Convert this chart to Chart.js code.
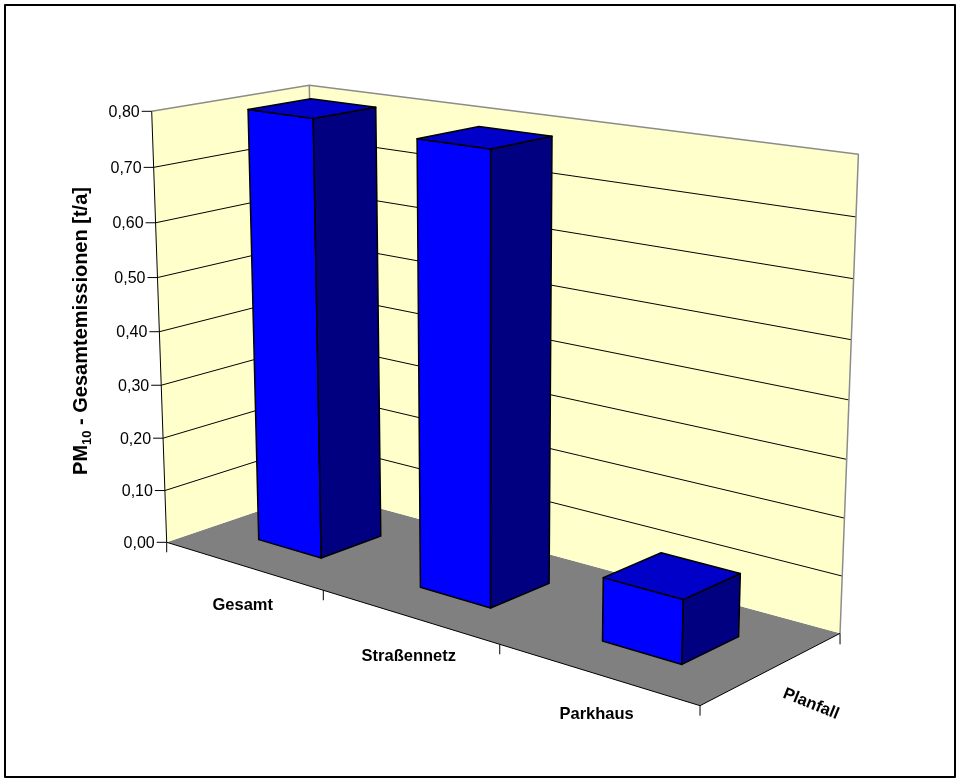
<!DOCTYPE html>
<html>
<head>
<meta charset="utf-8">
<script src="https://cdn.jsdelivr.net/npm/chart.js@4.4.1/dist/chart.umd.min.js"></script>
<style>
  html, body { margin: 0; padding: 0; background: #ffffff; }
  canvas { display: block; }
</style>
</head>
<body>
<canvas id="chart" width="960" height="782"></canvas>
<script>
// ---- data ----
const categories = ['Gesamt', 'Straßennetz', 'Parkhaus'];
const seriesName = 'Planfall';
const emissions = [0.80, 0.79, 0.11];
const axisMin = 0.0;
const axisMax = 0.8;
const axisStep = 0.1;
const titleMain = 'PM';
const titleSub = '10';
const titleRest = ' - Gesamtemissionen [t/a]';

// ---- 3D view: perspective projection of the unit plot box ----
// c = category fraction (0 left .. 1 right), d = depth (0 front .. 1 back), v = value fraction
const view = {
  origin: [166.7, 542.3],
  cat: [415.3, 44.4],
  depth: [170.5, -19.35],
  val: [-21.75, -435.95],
  w: [-0.1686, 0.0644, -0.0445]
};
const barDepth = [0.3, 0.7];

function project(c, d, v) {
  const k = 1 + view.w[0] * c + view.w[1] * d + view.w[2] * v;
  return [
    (view.origin[0] + view.cat[0] * c + view.depth[0] * d + view.val[0] * v) / k,
    (view.origin[1] + view.cat[1] * c + view.depth[1] * d + view.val[1] * v) / k
  ];
}

const FONT = '"Liberation Sans", Arial, Helvetica, sans-serif';
const INK = '#000000';
const WALL = '#FFFFCC';
const FLOOR = '#808080';
const RIM = '#8C8C8C';
const BAR_FRONT = '#0000FF';
const BAR_SIDE = '#000080';
const BAR_TOP = '#0000C8';

function poly(ctx, pts, fill, stroke, lw, close = true) {
  ctx.beginPath();
  pts.forEach((p, i) => (i ? ctx.lineTo(p[0], p[1]) : ctx.moveTo(p[0], p[1])));
  if (close) ctx.closePath();
  if (fill) { ctx.fillStyle = fill; ctx.fill(); }
  if (stroke) { ctx.strokeStyle = stroke; ctx.lineWidth = lw; ctx.stroke(); }
}

const box3d = {
  id: 'box3d',
  beforeDraw(chart) {
    const ctx = chart.ctx;
    ctx.save();
    ctx.fillStyle = '#ffffff';
    ctx.fillRect(0, 0, chart.width, chart.height);
    ctx.restore();
  },
  beforeDatasetsDraw() { return false; },
  afterDraw(chart) {
    const ctx = chart.ctx;
    const xs = chart.scales.x;
    const ys = chart.scales.y;
    const vFrac = val => ys.getDecimalForPixel(ys.getPixelForValue(val));
    const cFrac = px => xs.getDecimalForPixel(px);
    const P = project;

    ctx.save();
    ctx.lineJoin = 'round';
    ctx.lineCap = 'butt';

    // floor and walls
    poly(ctx, [P(0, 0, 0), P(1, 0, 0), P(1, 1, 0), P(0, 1, 0)], FLOOR);
    poly(ctx, [P(0, 0, 0), P(0, 1, 0), P(0, 1, 1), P(0, 0, 1)], WALL);
    poly(ctx, [P(0, 1, 0), P(1, 1, 0), P(1, 1, 1), P(0, 1, 1)], WALL);

    // gridlines on both walls
    const ticks = ys.ticks;
    ticks.forEach(t => {
      const v = vFrac(t.value);
      if (v <= 0.0001 || v >= 0.9999) return;
      poly(ctx, [P(0, 0, v), P(0, 1, v), P(1, 1, v)], null, INK, 1, false);
    });

    // wall rims
    poly(ctx, [P(0, 0, 1), P(0, 1, 1), P(1, 1, 1), P(1, 1, 0)], null, RIM, 1.5, false);
    poly(ctx, [P(0, 1, 1), P(0, 1, 0)], null, RIM, 1.5, false);

    // axes
    poly(ctx, [P(0, 0, 1), P(0, 0, 0)], null, INK, 1, false);
    poly(ctx, [P(0, 0, 0), P(1, 0, 0), P(1, 1, 0)], null, INK, 1, false);

    // value ticks and labels
    ctx.font = '16px ' + FONT;
    ctx.textAlign = 'right';
    ctx.textBaseline = 'middle';
    ticks.forEach(t => {
      const p = P(0, 0, vFrac(t.value));
      poly(ctx, [[p[0] - 10, p[1]], [p[0], p[1]]], null, INK, 1, false);
      ctx.fillStyle = INK;
      ctx.fillText(t.label, p[0] - 12, p[1] + 1);
    });

    // category ticks (between categories) and depth tick
    for (let i = 0; i <= categories.length; i++) {
      const c = cFrac(xs.getPixelForValue(i - 0.5));
      const p = P(c, 0, 0);
      poly(ctx, [[p[0], p[1]], [p[0], p[1] + 10]], null, INK, 1, false);
    }
    const pd = P(1, 1, 0);
    poly(ctx, [[pd[0], pd[1]], [pd[0], pd[1] + 11]], null, INK, 1, false);

    // bars (back-left to front-right)
    const meta = chart.getDatasetMeta(0);
    meta.data.forEach(bar => {
      const b = bar.getProps(['x', 'y', 'base', 'width'], true);
      const c0 = cFrac(b.x - b.width / 2);
      const c1 = cFrac(b.x + b.width / 2);
      const v0 = ys.getDecimalForPixel(b.base);
      const v1 = ys.getDecimalForPixel(b.y);
      const [d0, d1] = barDepth;
      poly(ctx, [P(c0, d0, v0), P(c1, d0, v0), P(c1, d0, v1), P(c0, d0, v1)], BAR_FRONT, INK, 1.5);
      poly(ctx, [P(c1, d0, v0), P(c1, d1, v0), P(c1, d1, v1), P(c1, d0, v1)], BAR_SIDE, INK, 1.5);
      poly(ctx, [P(c0, d0, v1), P(c1, d0, v1), P(c1, d1, v1), P(c0, d1, v1)], BAR_TOP, INK, 1.5);
    });

    // category labels
    ctx.fillStyle = INK;
    ctx.font = 'bold 16.5px ' + FONT;
    ctx.textAlign = 'center';
    ctx.textBaseline = 'middle';
    categories.forEach((name, i) => {
      const p = P(cFrac(xs.getPixelForValue(i)), 0, 0);
      ctx.fillText(name, p[0], p[1] + 40);
    });

    // depth axis title
    ctx.save();
    ctx.translate(811, 704);
    ctx.rotate(22 * Math.PI / 180);
    ctx.fillText(seriesName, 0, 0);
    ctx.restore();

    // value axis title with subscript
    ctx.save();
    ctx.translate(80, 331);
    ctx.rotate(-Math.PI / 2);
    const big = 'bold 20px ' + FONT;
    const small = 'bold 13px ' + FONT;
    ctx.font = big;
    const w1 = ctx.measureText(titleMain).width;
    const w3 = ctx.measureText(titleRest).width;
    ctx.font = small;
    const w2 = ctx.measureText(titleSub).width;
    let x = -(w1 + w2 + w3) / 2;
    ctx.textAlign = 'left';
    ctx.textBaseline = 'alphabetic';
    ctx.fillStyle = INK;
    ctx.font = big;
    ctx.fillText(titleMain, x, 7);
    x += w1;
    ctx.font = small;
    ctx.fillText(titleSub, x, 11);
    x += w2;
    ctx.font = big;
    ctx.fillText(titleRest, x, 7);
    ctx.restore();

    // outer frame
    ctx.strokeStyle = INK;
    ctx.lineWidth = 2;
    ctx.strokeRect(5, 5, 950, 772);

    ctx.restore();
  }
};

new Chart(document.getElementById('chart'), {
  type: 'bar',
  data: {
    labels: categories,
    datasets: [{
      label: seriesName,
      data: emissions,
      barPercentage: 0.4,
      categoryPercentage: 1.0,
      backgroundColor: BAR_FRONT
    }]
  },
  options: {
    responsive: false,
    animation: false,
    events: [],
    plugins: { legend: { display: false }, tooltip: { enabled: false } },
    scales: {
      x: { display: false, offset: true },
      y: {
        display: false,
        min: axisMin,
        max: axisMax,
        ticks: { stepSize: axisStep, callback: v => v.toFixed(2).replace('.', ',') }
      }
    }
  },
  plugins: [box3d]
});
</script>
</body>
</html>
